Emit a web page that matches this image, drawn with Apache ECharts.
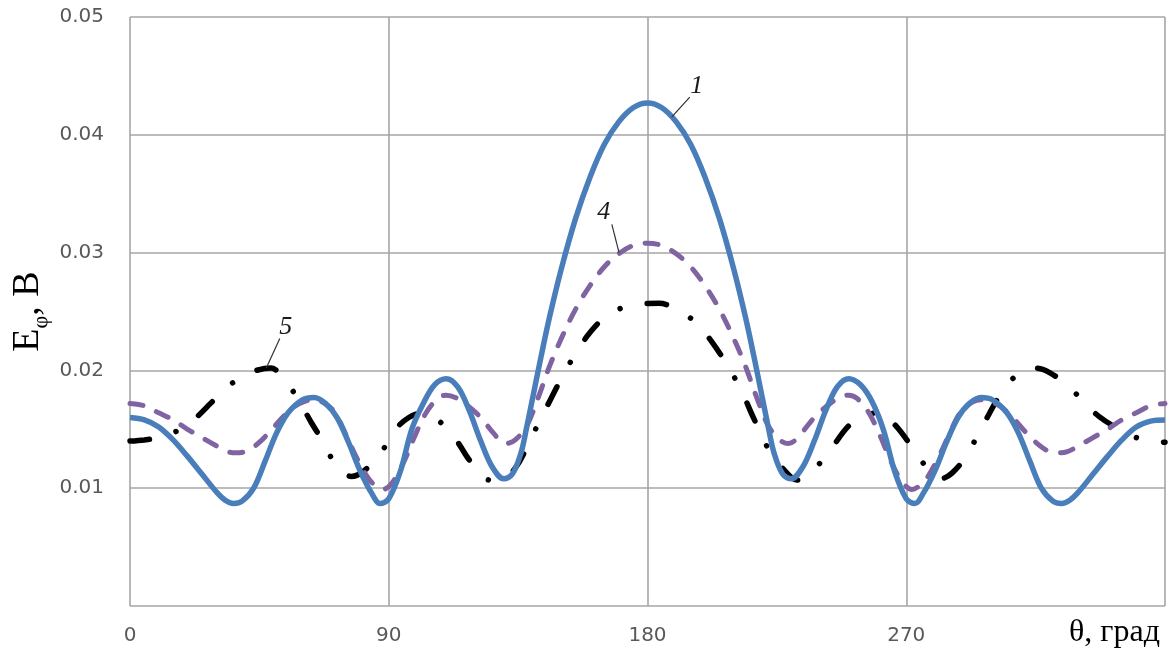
<!DOCTYPE html>
<html>
<head>
<meta charset="utf-8">
<script src="https://cdn.jsdelivr.net/npm/echarts@6/dist/echarts.min.js"></script>
<style>
  html, body { margin: 0; padding: 0; background: #fff; }
  #chart { width: 1175px; height: 652px; }
</style>
</head>
<body>
<div id="chart"></div>
<script>
// Angle θ (degrees) and field amplitude Eφ (V) for the three curves
const theta1 = [0,5,10,15,20,25,30,33,36,39,43,47,51,55,60,64,68,72,76,80,84,87,90,94,98,102,106,110,114,118,122,126,130,133,136,138,140,143,146,150,155,160,165,170,175,180,
  185,190,195,200,205,210,214,217,220,222,224,227,230,234,238,242,246,250,254,258,262,266,270,273,276,280,284,288,292,296,300,305,309,313,317,321,324,327,330,335,340,345,350,355,360];
const curve1 = [0.0160,0.0158,0.0152,0.0141,0.0127,0.0112,0.0097,0.0090,0.0087,0.0089,0.0100,0.0123,0.0147,0.0164,0.0175,0.0177,0.0172,0.0160,0.0139,0.0115,0.0096,0.0087,0.0091,0.0114,0.0150,0.0172,0.0188,0.0193,0.0186,0.0166,0.0140,0.0118,0.0108,0.0112,0.0130,0.0152,0.0176,0.0212,0.0246,0.0286,0.0329,0.0364,0.0392,0.0411,0.0423,0.0427,
  0.0423,0.0411,0.0392,0.0364,0.0329,0.0286,0.0246,0.0212,0.0176,0.0152,0.0130,0.0112,0.0108,0.0118,0.0140,0.0166,0.0186,0.0193,0.0188,0.0174,0.0150,0.0114,0.0091,0.0087,0.0096,0.0115,0.0139,0.0160,0.0172,0.0177,0.0175,0.0164,0.0147,0.0123,0.0100,0.0089,0.0087,0.0090,0.0097,0.0112,0.0127,0.0141,0.0152,0.0157,0.0158];

const theta4 = [0,5,10,15,20,25,30,34,37,41,45,49,53,57,61,64,67,71,75,79,83,86,88,91,95,99,103,107,110,114,118,122,126,129,131,134,138,142,146,150,155,160,165,170,175,180,
  185,190,195,200,205,210,214,218,222,226,229,231,234,238,242,246,250,253,257,261,265,269,272,274,277,281,285,289,293,296,299,303,307,311,315,319,323,326,330,335,340,345,350,355,360];
const curve4 = [0.0172,0.0170,0.0164,0.0158,0.0150,0.0143,0.0136,0.0131,0.0130,0.0132,0.0139,0.0149,0.0160,0.0169,0.0174,0.0175,0.0173,0.0165,0.0146,0.0125,0.0108,0.0101,0.0099,0.0104,0.0121,0.0144,0.0164,0.0176,0.0179,0.0176,0.0169,0.0160,0.0148,0.0140,0.0138,0.0141,0.0153,0.0177,0.0204,0.0227,0.0252,0.0272,0.0288,0.0299,0.0306,0.0308,
  0.0306,0.0299,0.0288,0.0272,0.0252,0.0227,0.0204,0.0177,0.0153,0.0141,0.0138,0.0140,0.0148,0.0160,0.0169,0.0176,0.0179,0.0176,0.0164,0.0144,0.0121,0.0104,0.0099,0.0101,0.0108,0.0125,0.0146,0.0165,0.0173,0.0175,0.0174,0.0169,0.0160,0.0149,0.0139,0.0132,0.0130,0.0131,0.0136,0.0143,0.0150,0.0158,0.0164,0.0170,0.0172];

const theta5 = [0,5,10,15,18,23,28,33,39,44,49,53,56,60,63,67,70,73,77,81,87,92,97,102,107,111,114,118,122,125,129,134,140,146,152,159,165,170,176,184,190,197,205,212,217,223,227,232,236,242,250,256,261,266,272,277,282,286,291,297,304,310,315,320,327,337,349,355,360];
const curve5 = [0.0140,0.0141,0.0143,0.0147,0.0151,0.0160,0.0172,0.0184,0.0195,0.0200,0.0202,0.0195,0.0185,0.0169,0.0156,0.0140,0.0126,0.0116,0.0110,0.0114,0.0129,0.0149,0.0160,0.0164,0.0158,0.0148,0.0139,0.0124,0.0113,0.0107,0.0108,0.0117,0.0145,0.0174,0.0202,0.0229,0.0245,0.0252,0.0256,0.0257,0.0252,0.0240,0.0215,0.0186,0.0159,0.0129,0.0117,0.0107,0.0112,0.0127,0.0153,0.0162,0.0164,0.0154,0.0135,0.0118,0.0108,0.0113,0.0128,0.0155,0.0184,0.0199,0.0202,0.0198,0.0185,0.0161,0.0144,0.0140,0.0139];

// Axis ticks
const xTicks = [0, 90, 180, 270, 360];
const yTicks = [0, 0.01, 0.02, 0.03, 0.04, 0.05];

// Curve numbers and their leader lines, in data units (θ, Eφ)
const curveNames = ['1', '4', '5'];
const nameAt = [[197.1, 0.0441], [164.8, 0.0334], [54.2, 0.0237]];
const leaderFrom = [[194.7, 0.0432], [167.6, 0.0324], [52.1, 0.0227]];
const leaderTo = [[188.4, 0.0415], [170.1, 0.0300], [47.4, 0.0202]];

const pairs = (xs, ys) => xs.map((x, i) => [x, ys[i]]);

function annotate(i) {
  return {
    markLine: {
      silent: true, symbol: 'none', animation: false,
      label: { show: false },
      lineStyle: { color: '#333', width: 1.2, type: 'solid' },
      data: [[{ coord: leaderFrom[i] }, { coord: leaderTo[i] }]]
    },
    markPoint: {
      silent: true, animation: false,
      symbol: 'circle', symbolSize: 1,
      itemStyle: { color: 'rgba(0,0,0,0)' },
      label: {
        show: true, position: 'inside', formatter: '{b}',
        fontFamily: 'Liberation Serif', fontStyle: 'italic',
        fontSize: 26, color: '#1a1a1a'
      },
      data: [{ name: curveNames[i], coord: nameAt[i] }]
    }
  };
}

const gridLine = { lineStyle: { color: '#a6a6a6', width: 1.6 } };
const tickFont = { fontFamily: 'DejaVu Sans', fontSize: 20, color: '#595959' };

const chart = echarts.init(document.getElementById('chart'), null, { renderer: 'canvas' });
chart.setOption({
  animation: false,
  backgroundColor: '#ffffff',
  grid: { left: 130, right: 10, top: 17, bottom: 46, containLabel: false, outerBoundsMode: 'none' },
  xAxis: {
    type: 'value',
    min: xTicks[0], max: xTicks[xTicks.length - 1], interval: xTicks[1] - xTicks[0],
    axisLine: { show: false }, axisTick: { show: false },
    splitLine: Object.assign({ show: true }, gridLine),
    axisLabel: Object.assign({ margin: 20, formatter: v => (v === 360 ? '' : String(v)) }, tickFont),
    name: 'θ, град',
    nameLocation: 'end',
    nameGap: -96,
    nameMoveOverlap: false,
    nameTextStyle: {
      fontFamily: 'Liberation Serif', fontSize: 32, color: '#000',
      align: 'left', verticalAlign: 'top', padding: [11, 0, 0, 0]
    }
  },
  yAxis: {
    type: 'value',
    min: yTicks[0], max: yTicks[yTicks.length - 1], interval: yTicks[1] - yTicks[0],
    axisLine: { show: false }, axisTick: { show: false },
    splitLine: Object.assign({ show: true }, gridLine),
    axisLabel: Object.assign({ margin: 26, formatter: v => (v === 0 ? '' : v.toFixed(2)) }, tickFont),
    name: '{e|E}{s|φ}{e|, В}',
    nameLocation: 'middle',
    nameRotate: 90,
    nameGap: 80,
    nameMoveOverlap: false,
    nameTextStyle: {
      rich: {
        e: { fontFamily: 'Liberation Serif', fontSize: 38, color: '#000', lineHeight: 44 },
        s: { fontFamily: 'Liberation Serif', fontSize: 22, color: '#000', lineHeight: 24, padding: [26, 0, 0, 0] }
      }
    }
  },
  series: [
    Object.assign({
      name: '1', type: 'line', data: pairs(theta1, curve1),
      smooth: 0.35, showSymbol: false, z: 3,
      lineStyle: { color: '#4a7ebb', width: 5.5 }
    }, annotate(0)),
    Object.assign({
      name: '4', type: 'line', data: pairs(theta4, curve4),
      smooth: 0.35, showSymbol: false, z: 2,
      lineStyle: { color: '#8064a2', width: 5, type: [13, 15], cap: 'round' }
    }, annotate(1)),
    Object.assign({
      name: '5', type: 'line', data: pairs(theta5, curve5),
      smooth: 0.35, showSymbol: false, z: 1,
      lineStyle: { color: '#000000', width: 5.5, type: [19.5, 27.7, 0.01, 27.7], cap: 'round' }
    }, annotate(2))
  ]
});
</script>
</body>
</html>
